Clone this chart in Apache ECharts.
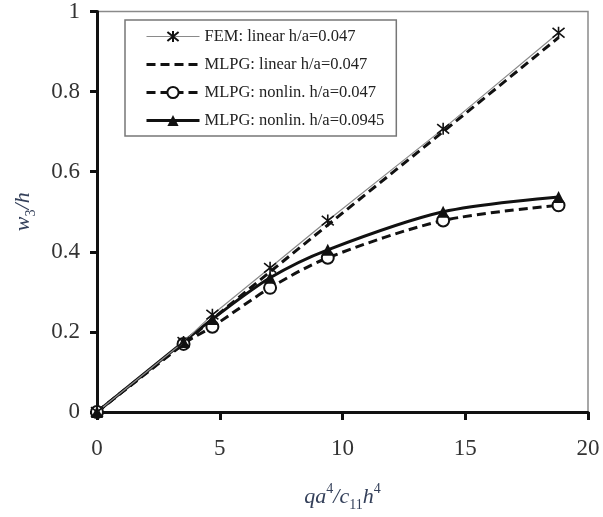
<!DOCTYPE html>
<html>
<head>
<meta charset="utf-8">
<script src="https://cdn.jsdelivr.net/npm/echarts@6/dist/echarts.min.js"></script>
<style>
  html, body { margin: 0; padding: 0; background: #fff; }
  #chart { width: 603px; height: 517px; }
</style>
</head>
<body>
<div id="chart"></div>
<script>
// load parameter qa^4/c11h^4
const loadX = [0, 3.525, 4.7, 7.05, 9.4, 14.1, 18.8];

// deflection w3/h for each case
const femLinear = [0, 0.175, 0.243, 0.36, 0.478, 0.707, 0.947];
const mlpgLinear = [0, 0.17, 0.232, 0.35, 0.467, 0.70, 0.935];
const mlpgNonlin047 = [0, 0.17, 0.213, 0.31, 0.385, 0.478, 0.516];
const mlpgNonlin0945 = [0, 0.175, 0.232, 0.335, 0.405, 0.50, 0.537];

const seriesNames = [
    'FEM: linear h/a=0.047',
    'MLPG: linear h/a=0.047',
    'MLPG: nonlin. h/a=0.047',
    'MLPG: nonlin. h/a=0.0945'
];

const xTicks = [0, 5, 10, 15, 20];

function pairs(ys) {
    return loadX.map((x, i) => [x, ys[i]]);
}

const serif = '"Liberation Serif", "DejaVu Serif", serif';
const nameColor = '#34405a';

// asterisk marker used by FEM
const starPath = 'path://M1,1 L9,9 M9,1 L1,9 M5,0 L5,10';

const chart = echarts.init(document.getElementById('chart'));

const option = {
    animation: false,
    grid: {
        left: 97,
        right: 15,
        top: 10,
        bottom: 90,
        show: true,
        borderColor: '#8a8a8a',
        borderWidth: 1.5
    },
    legend: {
        orient: 'vertical',
        left: 125,
        top: 20,
        padding: [8, 12, 7, 20],
        itemWidth: 53,
        itemHeight: 14,
        itemGap: 11,
        backgroundColor: '#fff',
        borderColor: '#777',
        borderWidth: 1.5,
        lineStyle: { width: 'inherit' },
        textStyle: { fontFamily: serif, fontSize: 16.5, color: '#222' },
        data: seriesNames
    },
    xAxis: {
        type: 'value',
        min: 0,
        max: 20,
        interval: 5,
        name: '{i|qa}{sup|4}{i|/c}{sub|11}{i|h}{sup|4}',
        nameLocation: 'middle',
        nameGap: 70,
        nameTextStyle: {
            rich: {
                i: { fontFamily: serif, fontStyle: 'italic', fontSize: 22, color: nameColor, lineHeight: 30 },
                sup: { fontFamily: serif, fontSize: 14, color: nameColor, verticalAlign: 'top', lineHeight: 30, padding: [0, 0, 12, 0] },
                sub: { fontFamily: serif, fontSize: 14, color: nameColor, verticalAlign: 'bottom', lineHeight: 30, padding: [8, 0, 0, 0] }
            }
        },
        axisLine: { lineStyle: { color: '#111', width: 3 } },
        axisTick: { show: true, inside: false, length: 8, lineStyle: { color: '#111', width: 3 } },
        axisLabel: {
            margin: 25,
            fontFamily: serif,
            fontSize: 23,
            color: '#333',
            customValues: xTicks
        },
        splitLine: { show: false }
    },
    yAxis: {
        type: 'value',
        min: 0,
        max: 1,
        interval: 0.2,
        name: '{i|w}{sub|3}{i|/h}',
        nameLocation: 'middle',
        nameGap: 59,
        nameTextStyle: {
            rich: {
                i: { fontFamily: serif, fontStyle: 'italic', fontSize: 22, color: nameColor, lineHeight: 30 },
                sub: { fontFamily: serif, fontSize: 14, color: nameColor, verticalAlign: 'bottom', lineHeight: 30, padding: [8, 0, 0, 0] }
            }
        },
        axisLine: { show: true, lineStyle: { color: '#111', width: 3 } },
        axisTick: { show: true, inside: false, length: 7, lineStyle: { color: '#111', width: 3 } },
        axisLabel: {
            margin: 17,
            fontFamily: serif,
            fontSize: 23,
            color: '#333'
        },
        splitLine: { show: false }
    },
    series: [
        {
            name: seriesNames[0],
            type: 'line',
            data: pairs(femLinear),
            symbol: starPath,
            symbolSize: 12,
            itemStyle: { color: '#111', borderColor: '#111', borderWidth: 1.6 },
            lineStyle: { color: '#8a8a8a', width: 1.2 },
            z: 4
        },
        {
            name: seriesNames[1],
            type: 'line',
            data: pairs(mlpgLinear),
            showSymbol: false,
            symbol: 'circle',
            // transparent marker: the legend then shows only the dashed line
            itemStyle: { color: 'rgba(0,0,0,0)', borderWidth: 0 },
            lineStyle: { color: '#111', width: 3, type: [9, 5] },
            z: 3
        },
        {
            name: seriesNames[2],
            type: 'line',
            data: pairs(mlpgNonlin047),
            smooth: 0.3,
            symbol: 'circle',
            symbolSize: 12,
            itemStyle: { color: '#fff', borderColor: '#111', borderWidth: 2 },
            lineStyle: { color: '#111', width: 3, type: [9, 5] },
            z: 3
        },
        {
            name: seriesNames[3],
            type: 'line',
            data: pairs(mlpgNonlin0945),
            smooth: 0.3,
            symbol: 'triangle',
            symbolSize: 12,
            itemStyle: { color: '#111' },
            lineStyle: { color: '#111', width: 3 },
            z: 3
        }
    ]
};

chart.setOption(option);
</script>
</body>
</html>
